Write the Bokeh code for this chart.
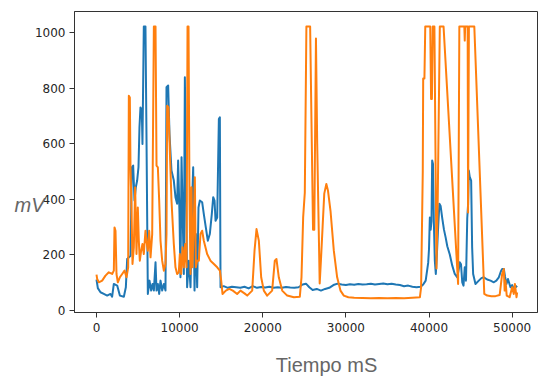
from bokeh.plotting import figure
from bokeh.models import Range1d, FixedTicker, Label
from bokeh.embed import file_html
from bokeh.resources import INLINE

# ---- data ----
blue_x = [0, 160, 480, 880, 1280, 1680, 1880, 2085, 2490, 2810, 3290, 3530, 3690, 4090,
          4250, 4410, 4570, 4730, 4890, 5050, 5170, 5290, 5450, 5530, 5690, 5890, 6010,
          6175, 6375, 6575, 6740, 6900, 7100, 7220, 7380, 7540, 7700, 7900, 8100, 8300,
          8420, 8620, 8780, 9020, 9300, 9500, 9700, 9820, 9985, 10100, 10230, 10350,
          10505, 10630, 10750, 10900, 11110, 11310, 11510, 11630, 11790, 11950, 12110,
          12270, 12430, 12710, 12910, 13150, 13390, 13630, 13870, 14040, 14200, 14320,
          14520, 14720, 14840, 14920, 15300, 15800, 16300, 16800, 17300, 17800, 18300,
          18800, 19300, 19800, 20300, 20800, 21300, 21800, 22300, 22800, 23300, 23800,
          24300, 24800, 25200, 25600, 26000, 26500, 27000, 27500, 28000, 28500, 29000,
          29500, 30000, 30500, 31000, 31500, 32000, 32500, 33000, 33500, 34000, 34500,
          35000, 35500, 36000, 36500, 37000, 37500, 38000, 38500, 39000, 39300, 39600,
          39900, 40000, 40100, 40200, 40300, 40380, 40480, 40580, 40700, 40820, 40950,
          41100, 41250, 41400, 41600, 41800, 42000, 42200, 42500, 42800, 43100, 43400,
          43600, 43700, 43850, 44000, 44150, 44300, 44450, 44600, 44700, 44790, 44900,
          45070, 45190, 45310, 45590, 45990, 46300, 46590, 47000, 47400, 47800, 48100,
          48400, 48650, 48800, 49000, 49150, 49320, 49500, 49800, 50000, 50200, 50400,
          50600]
blue_y = [110, 79, 64, 58, 52, 58, 48, 94, 88, 52, 48, 82, 184, 196,
          515, 521, 395, 443, 467, 515, 660, 731, 719, 599, 1023, 1023, 635,
          58, 106, 70, 94, 70, 172, 70, 94, 58, 106, 70, 94, 70,
          804, 810, 635, 503, 467, 407, 383, 539, 346, 118, 551, 370,
          130, 840, 515, 82, 178, 82, 395, 515, 70, 274, 82,
          370, 395, 389, 346, 298, 250, 274, 346, 407, 395, 322,
          334, 689, 695, 82, 86, 80, 84, 82, 80, 84, 78,
          86, 80, 83, 81, 84, 80, 82, 80, 83, 81, 80,
          82, 92, 95, 82, 72, 76, 70, 76, 80, 90, 95,
          92, 90, 93, 91, 94, 92, 93, 95, 92, 94, 96,
          93, 95, 92, 90, 86, 88, 84, 82, 84, 92, 106,
          170, 220, 334, 290, 320, 539, 527, 322, 178, 130, 202,
          300, 383, 375, 330, 290, 262, 230, 200, 160, 130, 118,
          150, 172, 165, 100, 88, 154, 106, 330, 380, 503, 480,
          467, 226, 130, 94, 106, 115, 118, 110, 106, 100, 106,
          118, 140, 148, 148, 120, 94, 112, 82, 90, 76, 88,
          82]

orange_x = [0, 80, 280, 680, 1080, 1480, 1880, 2085, 2165, 2285, 2405, 2565, 2810, 3090,
            3370, 3610, 3810, 3890, 4010, 4090, 4210, 4330, 4490, 4650, 4810, 4970, 5090,
            5210, 5370, 5530, 5690, 5890, 6010, 6175, 6335, 6500, 6700, 6900, 7100, 7220,
            7380, 7540, 7700, 7900, 8100, 8300, 8420, 8500, 8660, 8820, 9020, 9300, 9500,
            9700, 9900, 10025, 10185, 10350, 10505, 10665, 10830, 10950, 11070, 11190,
            11310, 11430, 11550, 11710, 11830, 11950, 12110, 12310, 12510, 12710, 12910,
            13310, 13710, 14120, 14520, 14840, 15000, 15080, 15160, 15560, 15970, 16400,
            16920, 17320, 17800, 18130, 18730, 19010, 19250, 19530, 19810, 20130, 20530,
            21130, 21450, 21650, 21930, 22340, 22940, 23740, 24460, 24660, 24860, 25060,
            25250, 25700, 25900, 26050, 26200, 26400, 26550, 26850, 27000, 27200, 27400,
            27650, 27850, 28150, 28550, 28950, 29350, 29750, 30300, 31000, 32000, 33000,
            34000, 35000, 36000, 37000, 38000, 38900, 39050, 39250, 39300, 39450, 39550,
            40150, 40250, 40350, 40450, 40650, 40800, 40900, 41050, 41300, 41750, 43500,
            43650, 44250, 44300, 44350, 44650, 44700, 44800, 45450, 46650, 47000, 47500,
            48000, 48500, 48800, 49000, 49100, 49200, 49350, 49700, 50000, 50200, 50330,
            50530, 50600]
orange_y = [128, 112, 100, 106, 124, 136, 130, 142, 298, 286, 130, 100, 118, 130,
            142, 118, 154, 773, 767, 515, 370, 166, 226, 443, 202, 370, 250,
            178, 214, 238, 202, 286, 250, 214, 286, 190, 274, 1023, 1023, 521,
            515, 395, 250, 178, 142, 166, 274, 737, 731, 575, 395, 238, 154,
            130, 136, 202, 130, 226, 154, 238, 154, 1023, 1023, 395,
            130, 443, 154, 322, 479, 154, 178, 178, 274, 286, 250,
            202, 178, 166, 154, 142, 106, 82, 58, 70, 76, 70,
            58, 70, 60, 52, 70, 214, 292, 250, 118, 70, 52,
            70, 178, 184, 118, 70, 52, 46, 48, 118, 334, 424,
            1023, 1023, 600, 290, 290, 980, 600, 96, 180, 300, 420,
            455, 430, 358, 214, 118, 70, 52, 46, 44, 43, 42,
            43, 42, 43, 42, 44, 46, 82, 500, 835, 835, 1023,
            1023, 761, 761, 1023, 1023, 500, 150, 400, 1023, 1023, 94,
            1023, 1023, 972, 1023, 1023, 352, 1023, 1023, 58, 52, 50,
            50, 54, 130, 148, 70, 106, 52, 46, 82, 58, 94,
            46, 64]

x_ticks = [0, 10000, 20000, 30000, 40000, 50000]
y_ticks = [0, 200, 400, 600, 800, 1000]
x_title = "Tiempo mS"
y_title = "mV"

# ---- figure ----
p = figure(width=545, height=377, output_backend="svg", toolbar_location=None,
           x_range=Range1d(-2647, 53052), y_range=Range1d(-9, 1077),
           min_border_left=74, min_border_right=8, min_border_top=11,
           min_border_bottom=65)
p.background_fill_color = "white"
p.border_fill_color = "white"
p.outline_line_color = "#333333"
p.outline_line_width = 1
p.xgrid.visible = False
p.ygrid.visible = False

p.line(blue_x, blue_y, line_color="#1f77b4", line_width=2, line_join="round")
p.line(orange_x, orange_y, line_color="#ff7f0e", line_width=2, line_join="round")

p.xaxis.ticker = FixedTicker(ticks=x_ticks)
p.yaxis.ticker = FixedTicker(ticks=y_ticks)
for ax in (p.xaxis[0], p.yaxis[0]):
    ax.axis_line_color = "#333333"
    ax.major_tick_line_color = "#333333"
    ax.major_tick_out = 5
    ax.major_tick_in = 0
    ax.minor_tick_line_color = None
    ax.major_label_text_font = "DejaVu Sans"
    ax.major_label_text_font_size = "12px"
    ax.major_label_text_color = "#262626"
p.xaxis.major_label_standoff = 5
p.yaxis.major_label_standoff = 4

# axis titles as labels placed in side panels (so they are not clipped to the frame)
p.add_layout(Label(x=-9865, y=380, text=y_title, text_font="Liberation Sans",
                   text_font_style="italic", text_font_size="20px",
                   text_color="#666666", text_baseline="alphabetic",
                   text_align="left"), "left")
p.add_layout(Label(x=27670, y=-198, text=x_title, text_font="Liberation Sans",
                   text_font_size="20px", text_color="#666666",
                   text_baseline="alphabetic", text_align="center"), "below")

open("out.html", "w").write(file_html(p, INLINE))
